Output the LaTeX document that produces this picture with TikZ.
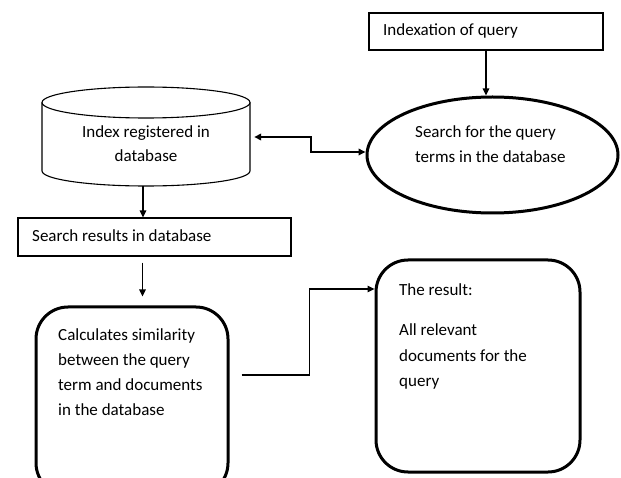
\documentclass[tikz,border=0pt]{standalone}
\usepackage{fontspec}
\setmainfont{Carlito}
\usetikzlibrary{shapes.geometric,arrows.meta}
\begin{document}
\begin{tikzpicture}[x=1pt,y=-1pt,
  thinbox/.style={draw,line width=1.1pt,rectangle,inner sep=0pt},
  thickround/.style={draw,line width=3pt,rectangle,rounded corners=32pt,inner sep=0pt},
  thickell/.style={draw,line width=3pt,ellipse,inner sep=0pt},
  txt/.style={anchor=base west,inner sep=0pt,font=\fontsize{17}{25}\selectfont},
  conn/.style={line width=1.2pt,-{Triangle[length=7pt,width=6.5pt]}},
  dconn/.style={line width=2pt,{Triangle[length=7pt,width=6.5pt]}-{Triangle[length=7pt,width=6.5pt]}}
]
\useasboundingbox (0,0) rectangle (621,478);
\clip (0,0) rectangle (621,478);

% shapes
\node[thinbox,minimum width=234pt,minimum height=37pt] (q) at (486,31.5) {};
\node[thickell,minimum width=251pt,minimum height=116pt] (s) at (492.5,155) {};
\draw[line width=1.1pt] (42,102.5) -- (42,171) arc[start angle=180,end angle=0,x radius=104,y radius=15] -- (250,102.5);
\draw[line width=1.1pt] (146,102.5) ellipse[x radius=104,y radius=15.5];
\node[inner sep=0pt,minimum width=208pt,minimum height=84pt] (db) at (146,144) {};
\node[thinbox,minimum width=273pt,minimum height=38pt] (r) at (154.5,237) {};
\node[thickround,minimum width=192pt,minimum height=188pt] (c) at (132,401) {};
\node[thickround,minimum width=204pt,minimum height=212pt] (t) at (478,366) {};

% texts
\node[txt] (tq) at (383,36) {Indexation of query};
\node[txt] (ts1) at (415,138) {Search for the query};
\node[txt] (ts2) at (415,163) {terms in the database};
\node[txt,anchor=base] (td1) at (146,138) {Index registered in};
\node[txt,anchor=base] (td2) at (146,162) {database};
\node[txt] (tr) at (32,242) {Search results in database};
\node[txt] (tc1) at (58,340) {Calculates similarity};
\node[txt] (tc2) at (58,365) {between the query};
\node[txt] (tc3) at (58,390) {term and documents};
\node[txt] (tc4) at (58,415) {in the database};
\node[txt] (tt1) at (399,295) {The result:};
\node[txt] (tt2) at (399,335) {All relevant};
\node[txt] (tt3) at (399,361) {documents for the};
\node[txt] (tt4) at (399,386) {query};

% connectors
\draw[conn] (q.south) -- (q.south |- s.north);
\draw[dconn] ([xshift=4pt,yshift=7pt]db.east) -- ++(57,0) |- ([yshift=3pt]s.west);
\draw[conn] ([xshift=-3pt]db.south) -- ([xshift=-3pt]db.south |- r.north);
\draw[conn,shorten <=6pt,shorten >=9pt] ([xshift=-12pt]r.south) -- ([xshift=-12pt]r.south |- c.north);
\draw[conn] ([xshift=12pt,yshift=26pt]c.east) -- ++(68,0) |- ([yshift=77pt]t.west);
\end{tikzpicture}
\end{document}
